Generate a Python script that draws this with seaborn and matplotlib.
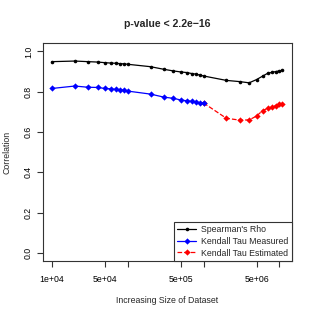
import matplotlib
matplotlib.use("Agg")
import matplotlib.pyplot as plt
import seaborn as sns

# dataset sizes (x) and correlations
sizes = [1e4, 2e4, 3e4, 4e4, 5e4, 6e4, 7e4, 8e4, 9e4, 1e5,
         2e5, 3e5, 4e5, 5e5, 6e5, 7e5, 8e5, 9e5, 1e6,
         2e6, 3e6, 4e6, 5e6, 6e6, 7e6, 8e6, 9e6, 1e7, 1.1e7]
spearman = [0.949, 0.952, 0.949, 0.947, 0.944, 0.942, 0.941, 0.939, 0.938, 0.936,
            0.924, 0.911, 0.903, 0.898, 0.895, 0.890, 0.887, 0.882, 0.878,
            0.856, 0.850, 0.844, 0.860, 0.877, 0.891, 0.896, 0.900, 0.903, 0.906]
kendall_measured = [0.816, 0.828, 0.822, 0.821, 0.816, 0.814, 0.811, 0.809, 0.806, 0.803,
                    0.788, 0.773, 0.767, 0.759, 0.755, 0.752, 0.749, 0.745, 0.744]
kendall_estimated = [0.744, 0.668, 0.659, 0.660, 0.679, 0.706, 0.717, 0.724, 0.731, 0.737, 0.741]

sizes_measured = sizes[:19]
sizes_estimated = sizes[18:]

tick_pos = [1e4, 5e4, 1e5, 5e5, 1e6, 5e6, 1e7]
tick_text = ["1e+04", "5e+04", "", "5e+05", "", "5e+06", ""]

sns.set_style("white")
plt.rcParams["font.family"] = ["Liberation Sans", "DejaVu Sans"]

fig = plt.figure(figsize=(3.15, 3.15), dpi=100)
ax = fig.add_axes([0.1355, 0.1714, 0.7905, 0.6911])

#red first so the blue point at 1e6 sits on top
sns.lineplot(x=sizes_estimated, y=kendall_estimated, color="red", linestyle="--",
             marker="D", markersize=3.2, markeredgewidth=0, linewidth=0.9,
             label="Kendall Tau Estimated", ax=ax)
sns.lineplot(x=sizes_measured, y=kendall_measured, color="blue",
             marker="D", markersize=3.2, markeredgewidth=0, linewidth=0.9,
             label="Kendall Tau Measured", ax=ax)
sns.lineplot(x=sizes, y=spearman, color="black",
             marker="o", markersize=2.6, markeredgewidth=0, linewidth=0.9,
             label="Spearman's Rho", ax=ax)

ax.set_xscale("log")
ax.set_xlim(10 ** 3.878, 10 ** 7.163)
ax.set_ylim(-0.04, 1.04)
ax.set_xticks(tick_pos)
ax.set_xticklabels(tick_text)
ax.minorticks_off()
ax.set_yticks([0.0, 0.2, 0.4, 0.6, 0.8, 1.0])
ax.set_yticklabels(["0.0", "0.2", "0.4", "0.6", "0.8", "1.0"], rotation=90, va="center")
ax.tick_params(axis="both", direction="out", length=4, width=0.8, colors="#333333",
               labelsize=6.3, labelcolor="black", bottom=True, left=True)
ax.tick_params(axis="x", pad=6)
ax.tick_params(axis="y", pad=3)
for s in ax.spines.values():
    s.set_color("#333333")
    s.set_linewidth(0.8)

ax.set_xlabel("Increasing Size of Dataset", fontsize=6.3, labelpad=9)
ax.set_ylabel("Correlation", fontsize=6.3, labelpad=9)
ax.set_title("p-value < 2.2e\u221216", fontsize=7.6, fontweight="bold", pad=12)

#legend in the R order, one marker per entry
h, l = ax.get_legend_handles_labels()
order = [2, 1, 0]
leg = ax.legend([h[i] for i in order], [l[i] for i in order], loc="lower right",
                borderaxespad=0, fancybox=False, edgecolor="#333333", framealpha=1,
                fontsize=6.3, handlelength=2.1, handletextpad=0.6, borderpad=0.4,
                labelspacing=0.3, numpoints=1)
leg.get_frame().set_linewidth(0.8)

fig.savefig("out.png", dpi=100)
